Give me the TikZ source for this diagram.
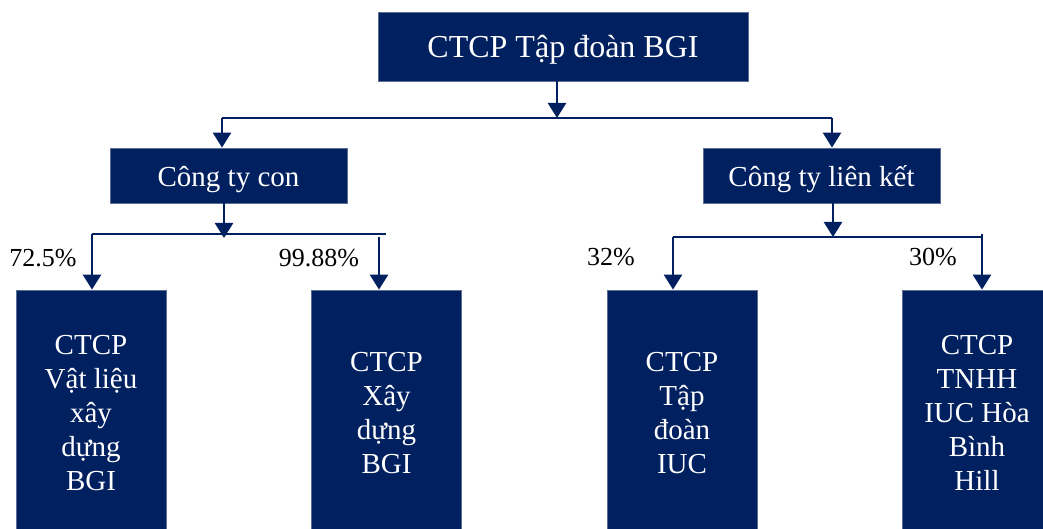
\documentclass[tikz,border=0pt]{standalone}
\definecolor{navy1}{RGB}{0, 32, 96}
\definecolor{edge1}{RGB}{90, 110, 150}
\usepackage{fontspec}
\setmainfont{Liberation Serif}
\usepackage{tikz}
\usetikzlibrary{arrows.meta, positioning}

\begin{document}
\begin{tikzpicture}[x=1pt, y=-1pt,
  box/.style={draw=edge1, line width=0.8pt, fill=navy1, text=white, align=center, inner sep=0pt},
  arr/.style={draw=navy1, line width=2.6pt, -{Triangle[width=18pt, length=15pt]}},
  hline/.style={draw=navy1, line width=1.3pt},
  pct/.style={font=\fontsize{26}{30}\selectfont, inner sep=0pt}]
  \useasboundingbox (0,0) rectangle (1043,529);
  \clip (0,0) rectangle (1043,529);

  % group
  \node[box, minimum width=370pt, minimum height=69pt, text height=23pt, text depth=0pt, font=\fontsize{32}{36}\selectfont] (bgi) at (563,46.5) {CTCP Tập đoàn BGI};

  % second level
  \node[box, minimum width=237pt, minimum height=55pt, text height=23pt, text depth=0pt, font=\fontsize{29}{34}\selectfont] (con) at (228.5,175.5) {Công ty con};
  \node[box, minimum width=237pt, minimum height=55pt, text height=23pt, text depth=0pt, font=\fontsize{29}{34}\selectfont] (lk) at (821.5,175.5) {Công ty liên kết};

  % companies
  \node[box, minimum width=150pt, minimum height=246pt, font=\fontsize{29}{34}\selectfont] (vl) at (91,413) {CTCP\\Vật liệu\\xây\\dựng\\BGI};
  \node[box, minimum width=150pt, minimum height=246pt, font=\fontsize{29}{34}\selectfont] (xd) at (386.5,413) {CTCP\\Xây\\dựng\\BGI};
  \node[box, minimum width=150pt, minimum height=246pt, font=\fontsize{29}{34}\selectfont] (iuc) at (682,413) {CTCP\\Tập\\đoàn\\IUC};
  \node[box, minimum width=150pt, minimum height=246pt, font=\fontsize{29}{34}\selectfont] (hbh) at (977,413) {CTCP\\TNHH\\IUC Hòa\\Bình\\Hill};

  % top split
  \coordinate (j0) at (557,118);
  \coordinate (jl) at (222,118);
  \coordinate (jr) at (832,118);
  \draw[arr] (bgi.south -| j0) -- (j0);
  \draw[hline] (jl) -- (jr);
  \draw[arr] (jl) -- (jl |- con.north);
  \draw[arr] (jr) -- (jr |- lk.north);

  % left split
  \coordinate (c0) at (224,238);
  \coordinate (cl) at (92,234);
  \coordinate (cr) at (386,234);
  \coordinate (cr2) at (379,237);
  \draw[arr] (con.south -| c0) -- (c0);
  \draw[hline] (cl) -- (cr);
  \draw[arr] (cl) -- (cl |- vl.north);
  \draw[arr] (cr2) -- (cr2 |- xd.north);

  % right split
  \coordinate (k0) at (833,237);
  \coordinate (kl) at (673,237);
  \coordinate (kr) at (983,237);
  \coordinate (kr2) at (982,234);
  \draw[arr] (lk.south -| k0) -- (k0);
  \draw[hline] (kl) -- (kr);
  \draw[arr] (kl) -- (kl |- iuc.north);
  \draw[arr] (kr2) -- (kr2 |- hbh.north);

  % shares
  \node[pct] (p1) at (43,258) {72.5\%};
  \node[pct] (p2) at (319,258) {99.88\%};
  \node[pct] (p3) at (611,257) {32\%};
  \node[pct] (p4) at (933,257) {30\%};
\end{tikzpicture}
\end{document}
